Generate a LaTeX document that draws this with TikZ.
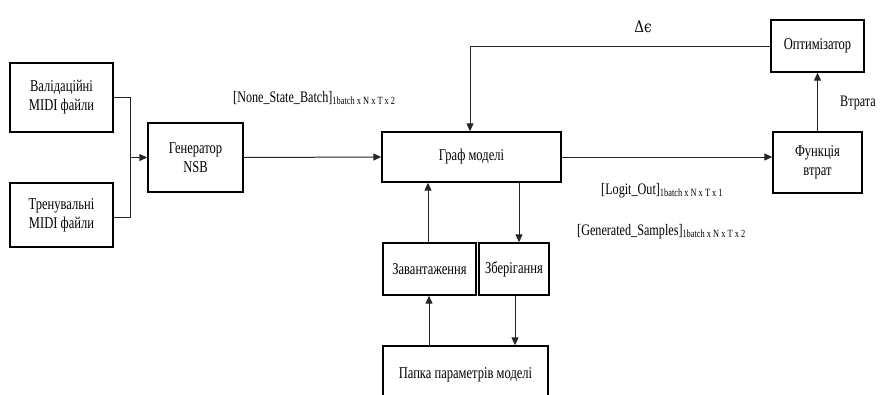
\documentclass[tikz,border=0pt]{standalone}
\usepackage{fontspec}
\setmainfont{Liberation Serif}[FakeStretch=0.76]
\newfontfamily\greekserif{DejaVu Serif}
\usetikzlibrary{arrows.meta}
\begin{document}
\begin{tikzpicture}[x=1pt,y=-1pt,
  blk/.style={draw=black,line width=1.4pt,fill=white,rectangle,inner sep=0pt,align=center,font=\fontsize{16.5}{19}\selectfont},
  link/.style={draw=black!85,line width=1pt},
  arr/.style={link,-{Triangle[length=8pt,width=7pt]}},
  lbl/.style={inner sep=0pt,font=\fontsize{16}{18}\selectfont},
  sub/.style={}]
\clip (0,0) rectangle (882,394);
\useasboundingbox (0,0) rectangle (882,394);
% blocks
\node[blk,minimum width=103pt,minimum height=69pt] (val) at (61.5,97.5) {Валідаційні\\MIDI файли};
\node[blk,minimum width=103pt,minimum height=64pt] (tr) at (61.5,215) {Тренувальні\\MIDI файли};
\node[blk,minimum width=95pt,minimum height=69pt] (gen) at (195.5,157.5) {Генератор\\NSB};
\node[blk,minimum width=179pt,minimum height=50pt] (graf) at (471.5,157) {Граф моделі};
\node[blk,minimum width=93pt,minimum height=52pt] (opt) at (817.5,46) {Оптимізатор};
\node[blk,minimum width=89pt,minimum height=61pt] (fun) at (817.5,162.5) {Функція\\втрат};
\node[blk,minimum width=93pt,minimum height=52pt] (zav) at (429.5,269) {Завантаження};
\node[blk,minimum width=70pt,minimum height=52pt] (zber) at (514,269) {Зберігання};
\node[blk,minimum width=165pt,minimum height=58pt] (pap) at (465.5,375) {Папка параметрів моделі};
% junction of the two file sources
\coordinate (j) at (130,157.5);
\draw[link] (val.east |- 0,97) -| (j);
\draw[link] (tr.east |- 0,217) -| (j);
\draw[arr] (j) -- (gen.west);
% main data flow
\draw[arr] (gen.east) -- (graf.west);
\draw[arr] (graf.east |- 0,157) -- (fun.west |- 0,157);
\draw[arr] (fun.north) -- (opt.south);
\coordinate (fb) at (470,46);
\draw[link] (opt.west) -- (fb);
\draw[arr] (fb) -- (fb |- graf.north);
% saving and loading of parameters
\draw[arr] (zav.north -| 428,0) -- (graf.south -| 428,0);
\draw[arr] (graf.south -| 519,0) -- (zber.north -| 519,0);
\draw[arr] (zber.south -| 515,0) -- (pap.north -| 515,0);
\draw[arr] (pap.north -| 429,0) -- (zav.south -| 429,0);
% labels
\node[lbl] (ld) at (643,27) {{\greekserif\addfontfeatures{FakeStretch=0.85}Δϵ}};
\node[lbl] (lv) at (858,103) {Втрата};
\node[lbl,anchor=base west] (ln) at (233,102) {[None\_State\_Batch]\textsubscript{\fontsize{11}{11}\selectfont 1batch x N x T x 2}};
\node[lbl,anchor=base west] (lo) at (601,194) {[Logit\_Out]\textsubscript{\fontsize{11}{11}\selectfont 1batch x N x T x 1}};
\node[lbl,anchor=base west] (lg) at (577,235) {[Generated\_Samples]\textsubscript{\fontsize{11}{11}\selectfont 1batch x N x T x 2}};
\end{tikzpicture}
\end{document}
